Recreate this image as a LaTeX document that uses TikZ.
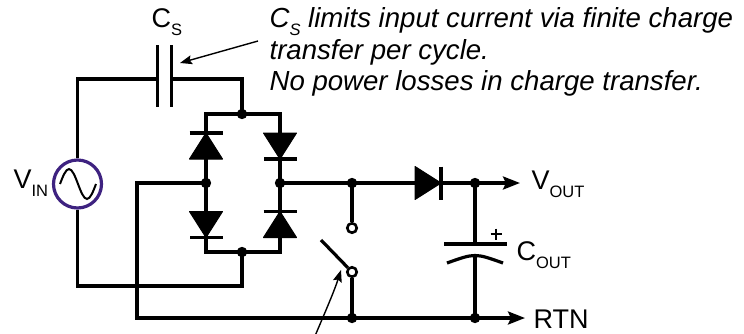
\documentclass[tikz,border=0pt]{standalone}
\usepackage{fontspec}
\setmainfont{Liberation Sans}
\usetikzlibrary{arrows.meta}
\definecolor{srcpurple}{RGB}{62,34,128}
\newcommand{\lsub}[2]{#1\raisebox{-8.5pt}{\fontsize{16.5}{16.5}\selectfont #2}}

\begin{document}
\begin{tikzpicture}[x=1pt,y=-1pt,line width=3.2pt,
    contact/.style={circle,draw,fill=white,inner sep=0pt,minimum size=9.5pt,line width=2.6pt},
    lbl/.style={font=\fontsize{27}{27}\selectfont,inner sep=0pt,anchor=base west},
    note/.style={font=\fontsize{27.6}{27.6}\selectfont\itshape,inner sep=0pt,anchor=base west},
    outarrow/.style={-{Stealth[length=17pt,width=13pt,inset=3pt]}},
    callout/.style={line width=1.4pt,-{Stealth[length=12pt,width=9pt,inset=2pt]}},
    diode/.pic={
        \filldraw[line width=1pt,line join=round] (-13,-16.5) -- (13,0) -- (-13,16.5) -- cycle;
        \draw (13,-16.5) -- (13,16.5);
    }]
    \useasboundingbox (0,0) rectangle (744,333);

    \coordinate (csl) at (157.5,79);
    \coordinate (csr) at (171.5,79);
    \coordinate (btop) at (242,114);
    \coordinate (bbot) at (242,252);
    \coordinate (bl) at (206,183);
    \coordinate (br) at (280,183);
    \coordinate (lowcorner) at (242,286);
    \coordinate (loopcorner) at (137,318);
    \coordinate (swnode) at (352,183);
    \coordinate (swrtn) at (352,318);
    \coordinate (vnode) at (475,183);
    \coordinate (rnode) at (475,318);
    \coordinate (coutp) at (475,244);
    \coordinate (coutm) at (475,256);
    \coordinate (vout) at (520,183);
    \coordinate (rtn) at (525,318);
    \coordinate (blade) at (321,240);

    \node[circle,draw=srcpurple,minimum size=48pt,inner sep=0pt] (src) at (77.5,184) {};
    \draw[line width=2pt] (60,184) sin (69,169) cos (78,184) sin (87,199) cos (96,184);

    \draw (src.north) |- (csl);
    \draw (csr) -| (btop);
    \draw (157.5,45) -- (157.5,107) (171.5,45) -- (171.5,107);
    \draw (src.south) |- (lowcorner) -- (bbot);
    \draw (bl) |- (btop) -| (br) |- (bbot) -| (bl);
    \draw[outarrow] (bl) -| (loopcorner) -- (rtn);
    \draw[outarrow] (br) -- (vout);

    \pic[rotate=90] at (206,146) {diode};
    \pic[rotate=-90] at (280,146) {diode};
    \pic[rotate=-90] at (206,224.5) {diode};
    \pic[rotate=90] at (280,224.5) {diode};
    \pic at (428,183) {diode};

    \node[contact] (swtop) at (352,228) {};
    \node[contact] (swbot) at (352,272) {};
    \draw (swnode) -- (swtop);
    \draw (swbot) -- (swrtn);
    \draw (blade) -- (swbot);

    \draw (vnode) -- (coutp);
    \draw (coutm) -- (rnode);
    \draw (444,244) -- (507,244);
    \draw (447,263) .. controls (475,253) .. (503,263);
    \draw[line width=2.2pt] (490.5,234) -- (501.5,234) (496,228.5) -- (496,239.5);

    \foreach \j in {btop,bbot,bl,br,swnode,swrtn,vnode,rnode}
        \fill (\j) circle (5.2);

    \node[lbl] (vinlbl) at (12,188) {\lsub{V}{IN}};
    \node[lbl] (cslbl) at (150,27) {\lsub{C}{S}};
    \node[lbl] (voutlbl) at (530,189) {\lsub{V}{OUT}};
    \node[lbl] (coutlbl) at (515,260) {\lsub{C}{OUT}};
    \node[lbl] (rtnlbl) at (532,328) {RTN};

    \node[note] (note1) at (268,27) {C\raisebox{-8pt}{\fontsize{16.5}{16.5}\selectfont S} limits input current via finite charge};
    \node[note] (note2) at (268,59) {transfer per cycle.};
    \node[note] (note3) at (268,90) {No power losses in charge transfer.};

    \coordinate (csnote) at (258,41);
    \coordinate (cstip) at (180,63);
    \coordinate (swnote) at (315,336);
    \coordinate (swtip) at (341,270);
    \draw[callout] (csnote) -- (cstip);
    \draw[callout] (swnote) .. controls (323,317) and (334,292) .. (swtip);
\end{tikzpicture}
\end{document}
